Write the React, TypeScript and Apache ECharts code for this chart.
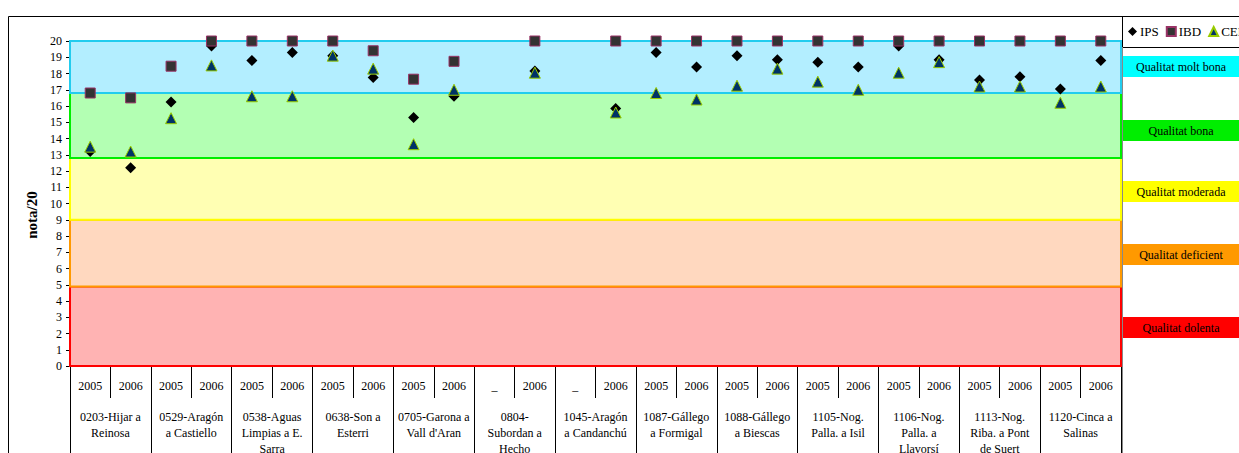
import React, { useEffect, useRef } from "react";
import * as echarts from "echarts";

// Sampling points: station x year
const yearLabels: string[] = [
  "2005", "2006", "2005", "2006", "2005", "2006", "2005", "2006", "2005", "2006",
  "_", "2006", "_", "2006", "2005", "2006", "2005", "2006", "2005", "2006",
  "2005", "2006", "2005", "2006", "2005", "2006",
];

const stations: string[] = [
  "0203-Hijar a\nReinosa",
  "0529-Aragón\na Castiello",
  "0538-Aguas\nLimpias a E.\nSarra",
  "0638-Son a\nEsterri",
  "0705-Garona a\nVall d'Aran",
  "0804-\nSubordan a\nHecho",
  "1045-Aragón\na Candanchú",
  "1087-Gállego\na Formigal",
  "1088-Gállego\na Biescas",
  "1105-Nog.\nPalla. a Isil",
  "1106-Nog.\nPalla. a\nLlavorsí",
  "1113-Nog.\nRiba. a Pont\nde Suert",
  "1120-Cinca a\nSalinas",
];

// Index scores (out of 20); null where no sample was taken
const ips: (number | null)[] = [
  13.2, 12.2, 16.25, 19.7, 18.8, 19.3, 19.1, 17.75, 15.3, 16.6,
  null, 18.15, null, 15.85, 19.3, 18.4, 19.1, 18.85, 18.7, 18.4,
  19.7, 18.85, 17.6, 17.8, 17.05, 18.8,
];
const ibd: (number | null)[] = [
  16.8, 16.5, 18.45, 20, 20, 20, 20, 19.4, 17.65, 18.75,
  null, 20, null, 20, 20, 20, 20, 20, 20, 20,
  20, 20, 20, 20, 20, 20,
];
const cee: (number | null)[] = [
  13.5, 13.2, 15.25, 18.5, 16.6, 16.6, 19.1, 18.3, 13.65, 17.0,
  null, 18.05, null, 15.6, 16.8, 16.4, 17.25, 18.3, 17.5, 17.0,
  18.05, 18.7, 17.2, 17.2, 16.2, 17.2,
];

// Quality classes: [from, to]
const classNames: string[] = [
  "Qualitat dolenta",
  "Qualitat deficient",
  "Qualitat moderada",
  "Qualitat bona",
  "Qualitat molt bona",
];
const classBounds: [number, number][] = [
  [0, 4.9],
  [4.9, 9],
  [9, 12.8],
  [12.8, 16.8],
  [16.8, 20],
];
const classFill = ["#FFB3B3", "#FFD8BF", "#FFFFB3", "#B3FFB3", "#B3EEFF"];
const classBorder = ["#FF0000", "#FF9900", "#FFFF00", "#00EE00", "#22CCEE"];
const classTag = ["#FF0000", "#FF9900", "#FFFF00", "#00EE00", "#00FFFF"];
const classTagY = [317, 244, 181, 120, 56];

const SERIF = '"Liberation Serif", "Times New Roman", serif';

export default function App() {
  const ref = useRef<HTMLDivElement>(null);

  useEffect(() => {
    if (!ref.current) return;
    const chart = echarts.init(ref.current, undefined, { renderer: "svg" });

    const tags: any[] = classNames.map((name, i) => ({
      type: "group",
      left: 1123,
      top: classTagY[i],
      children: [
        { type: "rect", shape: { x: 0, y: 0, width: 120, height: 21 }, style: { fill: classTag[i] } },
        {
          type: "text",
          x: 58,
          y: 11,
          style: {
            text: name,
            fill: "#000",
            font: `12px ${SERIF}`,
            textAlign: "center",
            textVerticalAlign: "middle",
          },
        },
      ],
    }));

    chart.setOption({
      animation: false,
      backgroundColor: "#fff",
      textStyle: { fontFamily: SERIF },
      grid: {
        left: 70,
        right: 118,
        top: 41,
        bottom: 87,
        containLabel: false,
        outerBoundsMode: "none",
      },
      legend: {
        data: ["IPS", "IBD", "CEE"],
        orient: "horizontal",
        left: 1128,
        top: 25,
        width: 300,
        padding: 0,
        itemWidth: 9,
        itemHeight: 9,
        itemGap: 7,
        textStyle: { fontFamily: SERIF, fontSize: 13, color: "#000", padding: [0, 0, 0, -2] },
      },
      graphic: [
        {
          type: "rect",
          shape: { x: 8.5, y: 16.5, width: 1300, height: 500 },
          style: { fill: "none", stroke: "#000", lineWidth: 1 },
          silent: true,
        },
        {
          type: "rect",
          shape: { x: 1122.5, y: 16.5, width: 200, height: 31 },
          style: { fill: "none", stroke: "#000", lineWidth: 1 },
          silent: true,
        },
        {
          type: "line",
          shape: { x1: 1122.5, y1: 47, x2: 1122.5, y2: 453 },
          style: { stroke: "#888", lineWidth: 1 },
          silent: true,
        },
        {
          type: "text",
          x: 32,
          y: 215,
          rotation: Math.PI / 2,
          style: {
            text: "nota/20",
            fill: "#000",
            font: `bold 15px ${SERIF}`,
            textAlign: "center",
            textVerticalAlign: "middle",
          },
        },
        ...tags,
      ],
      xAxis: [
        {
          type: "category",
          data: yearLabels,
          position: "bottom",
          boundaryGap: true,
          axisLine: { show: true, lineStyle: { color: "#000", width: 1 } },
          axisTick: { show: true, interval: 0, length: 32, lineStyle: { color: "#000" } },
          axisLabel: {
            interval: 0,
            margin: 14,
            fontSize: 12,
            fontFamily: SERIF,
            color: "#000",
          },
          splitLine: { show: false },
        },
        {
          type: "category",
          data: stations,
          position: "bottom",
          boundaryGap: true,
          axisLine: { show: false },
          axisTick: { show: true, interval: 0, length: 87, lineStyle: { color: "#000" } },
          axisLabel: {
            interval: 0,
            margin: 43,
            fontSize: 12,
            lineHeight: 16,
            fontFamily: SERIF,
            color: "#000",
            align: "center",
          },
          splitLine: { show: false },
        },
      ],
      yAxis: {
        type: "value",
        min: 0,
        max: 20,
        interval: 1,
        axisLine: { show: true, lineStyle: { color: "#000" } },
        axisTick: { show: true, length: 4, lineStyle: { color: "#000" } },
        axisLabel: { fontSize: 12, fontFamily: SERIF, color: "#000", margin: 8 },
        splitLine: { show: false },
      },
      series: [
        {
          name: "bands",
          type: "scatter",
          data: [],
          silent: true,
          z: 1,
          markArea: {
            silent: true,
            data: classBounds.map(([a, b], i) => [
              { yAxis: a, itemStyle: { color: classFill[i], borderColor: classBorder[i], borderWidth: 2, opacity: 1 } },
              { yAxis: b },
            ]),
          },
        },
        {
          name: "IPS",
          type: "scatter",
          data: ips,
          symbol: "diamond",
          symbolSize: 11,
          clip: false,
          z: 3,
          itemStyle: { color: "#000000", opacity: 1 },
        },
        {
          name: "IBD",
          type: "scatter",
          data: ibd,
          symbol: "rect",
          symbolSize: 10,
          clip: false,
          z: 4,
          itemStyle: { color: "#333333", borderColor: "#993366", borderWidth: 1, opacity: 1 },
        },
        {
          name: "CEE",
          type: "scatter",
          data: cee,
          symbol: "triangle",
          symbolSize: 11,
          clip: false,
          z: 5,
          itemStyle: { color: "#003366", borderColor: "#99CC00", borderWidth: 1, opacity: 1 },
        },
      ],
    });

    return () => chart.dispose();
  }, []);

  return (
    <div
      ref={ref}
      style={{ position: "absolute", left: 0, top: 0, width: 1239, height: 453 }}
    />
  );
}
